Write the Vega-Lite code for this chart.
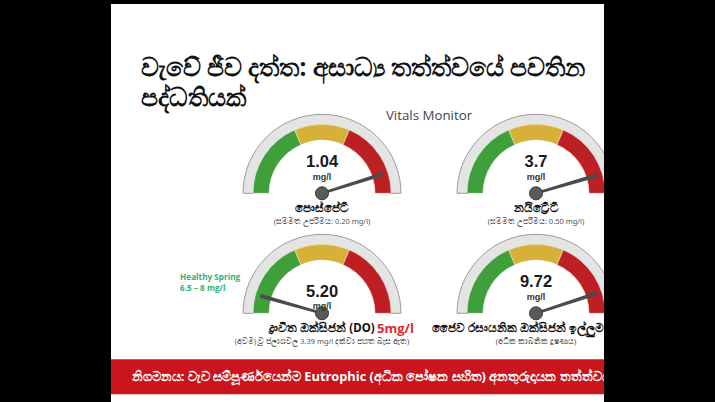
{
  "$schema": "https://vega.github.io/schema/vega-lite/v6.json",
  "width": 715,
  "height": 402,
  "autosize": {"type": "fit", "contains": "padding"},
  "padding": {"left": 111, "right": 111, "top": 4, "bottom": 0},
  "background": "#000000",
  "config": {"view": {"fill": "#ffffff", "stroke": null}, "font": "Noto Sans"},
  "datasets": {
    "gauges": [
      {"gauge": "පොස්පේට්", "col": "left", "row": "top", "value": "1.04", "unit": "mg/l", "note": "(සම්මත උපරිමය: 0.20 mg/l)", "needle": 90.3, "limit": ""},
      {"gauge": "නයිට්‍රේට්", "col": "right", "row": "top", "value": "3.7", "unit": "mg/l", "note": "(සම්මත උපරිමය: 0.50 mg/l)", "needle": 90.9, "limit": ""},
      {"gauge": "ද්‍රාවිත ඔක්සිජන් (DO)", "col": "left", "row": "bottom", "value": "5.20", "unit": "mg/l", "note": "(අවම) වූ ජලාශවල 3.39 mg/l දක්වා පහත බැස ඇත)", "needle": 8.8, "limit": "5mg/l"},
      {"gauge": "ජෛව රසායනික ඔක්සිජන් ඉල්ලුම (BOD)", "col": "right", "row": "bottom", "value": "9.72", "unit": "mg/l", "note": "(අධික කාබනික දූෂණය)", "needle": 89.9, "limit": ""}
    ],
    "bands": [
      {"col": "left", "row": "top", "zone": "green", "start": 0, "end": 37},
      {"col": "left", "row": "top", "zone": "yellow", "start": 37, "end": 63},
      {"col": "left", "row": "top", "zone": "red", "start": 63, "end": 100},
      {"col": "right", "row": "top", "zone": "green", "start": 0, "end": 37},
      {"col": "right", "row": "top", "zone": "yellow", "start": 37, "end": 63},
      {"col": "right", "row": "top", "zone": "red", "start": 63, "end": 100},
      {"col": "left", "row": "bottom", "zone": "green", "start": 0, "end": 37},
      {"col": "left", "row": "bottom", "zone": "yellow", "start": 37, "end": 63},
      {"col": "left", "row": "bottom", "zone": "red", "start": 63, "end": 100},
      {"col": "right", "row": "bottom", "zone": "green", "start": 0, "end": 37},
      {"col": "right", "row": "bottom", "zone": "yellow", "start": 37, "end": 63},
      {"col": "right", "row": "bottom", "zone": "red", "start": 63, "end": 100}
    ],
    "notes": [
      {"kind": "title", "col": "left", "row": "title", "text": "වැවේ ජීව දත්ත: අසාධ්‍ය තත්ත්වයේ පවතින\nපද්ධතියක්"},
      {"kind": "monitor", "col": "left", "row": "top", "text": "Vitals Monitor"},
      {"kind": "spring", "col": "left", "row": "bottom", "text": "Healthy Spring\n6.5 – 8 mg/l"},
      {"kind": "banner", "col": "left", "row": "bottom", "text": "නිගමනය: වැව සම්පූර්ණයෙන්ම Eutrophic (අධික පෝෂක සහිත) අනතුරුදායක තත්ත්වයක පවතී"}
    ]
  },
  "layer": [
    {
      "data": {"name": "notes"},
      "transform": [{"filter": "datum.kind === 'banner'"}],
      "mark": {"type": "rule", "color": "#c9151b", "strokeWidth": 35, "yOffset": 63.5, "clip": true},
      "encoding": {
        "y": {"field": "row", "type": "nominal", "axis": null, "scale": {"type": "point", "domain": ["title", "top", "bottom"], "padding": 0.6583, "align": 0.4386}}
      }
    },
    {
      "data": {"name": "gauges"},
      "mark": {"type": "arc", "innerRadius": 68, "outerRadius": 79, "fill": "#e4e4e4", "stroke": "#9c9c9c", "strokeWidth": 1, "clip": true},
      "encoding": {
        "x": {"field": "col", "type": "nominal", "axis": null, "scale": {"type": "point", "domain": ["left", "right"], "padding": 0.652, "align": 0.7563}},
        "y": {"field": "row", "type": "nominal", "axis": null},
        "theta": {"datum": 0, "type": "quantitative", "scale": {"domain": [0, 100], "range": [-1.5708, 1.5708]}},
        "theta2": {"datum": 100}
      }
    },
    {
      "data": {"name": "bands"},
      "mark": {"type": "arc", "innerRadius": 53, "outerRadius": 69, "stroke": "#ffffff", "strokeOpacity": 0.5, "strokeWidth": 0.8, "clip": true},
      "encoding": {
        "x": {"field": "col", "type": "nominal", "axis": null},
        "y": {"field": "row", "type": "nominal", "axis": null},
        "theta": {"field": "start", "type": "quantitative", "stack": null},
        "theta2": {"field": "end"},
        "color": {"field": "zone", "type": "nominal", "legend": null, "scale": {"domain": ["green", "yellow", "red"], "range": ["#3f9f3a", "#d6b038", "#bd2022"]}}
      }
    },
    {
      "data": {"name": "gauges"},
      "mark": {"type": "arc", "innerRadius": 0, "outerRadius": 63, "thetaOffset": -0.012, "theta2Offset": 0.012, "fill": "#4b4b4b", "stroke": "#4b4b4b", "strokeWidth": 2.6, "strokeJoin": "round", "clip": true},
      "encoding": {
        "x": {"field": "col", "type": "nominal", "axis": null},
        "y": {"field": "row", "type": "nominal", "axis": null},
        "theta": {"field": "needle", "type": "quantitative", "stack": null},
        "theta2": {"field": "needle"}
      }
    },
    {
      "data": {"name": "gauges"},
      "mark": {"type": "point", "filled": true, "size": 170, "color": "#5a5a5a", "stroke": "#3a3a3a", "strokeWidth": 1, "opacity": 1},
      "encoding": {
        "x": {"field": "col", "type": "nominal", "axis": null},
        "y": {"field": "row", "type": "nominal", "axis": null}
      }
    },
    {
      "data": {"name": "gauges"},
      "transform": [{"filter": "datum.limit === ''"}],
      "mark": {"type": "text", "font": "Liberation Sans", "fontWeight": "bold", "fontSize": 16.5, "color": "#1a1a1a", "dy": -31.5, "baseline": "middle"},
      "encoding": {
        "x": {"field": "col", "type": "nominal", "axis": null},
        "y": {"field": "row", "type": "nominal", "axis": null},
        "text": {"field": "value", "type": "nominal"}
      }
    },
    {
      "data": {"name": "gauges"},
      "transform": [{"filter": "datum.limit === ''"}],
      "mark": {"type": "text", "font": "Liberation Sans", "fontWeight": "bold", "fontSize": 9, "color": "#333333", "dy": -16.5, "baseline": "middle"},
      "encoding": {
        "x": {"field": "col", "type": "nominal", "axis": null},
        "y": {"field": "row", "type": "nominal", "axis": null},
        "text": {"field": "unit", "type": "nominal"}
      }
    },
    {
      "data": {"name": "gauges"},
      "transform": [{"filter": "datum.limit !== ''"}],
      "mark": {"type": "text", "font": "Liberation Sans", "fontWeight": "bold", "fontSize": 16.5, "color": "#1a1a1a", "dy": -21.5, "baseline": "middle"},
      "encoding": {
        "x": {"field": "col", "type": "nominal", "axis": null},
        "y": {"field": "row", "type": "nominal", "axis": null},
        "text": {"field": "value", "type": "nominal"}
      }
    },
    {
      "data": {"name": "gauges"},
      "transform": [{"filter": "datum.limit !== ''"}],
      "mark": {"type": "text", "font": "Liberation Sans", "fontWeight": "bold", "fontSize": 9, "color": "#333333", "dy": -7.5, "baseline": "middle"},
      "encoding": {
        "x": {"field": "col", "type": "nominal", "axis": null},
        "y": {"field": "row", "type": "nominal", "axis": null},
        "text": {"field": "unit", "type": "nominal"}
      }
    },
    {
      "data": {"name": "gauges"},
      "mark": {"type": "text", "fontWeight": "bold", "fontSize": 11.5, "color": "#111111", "dy": 16, "baseline": "middle", "clip": true},
      "encoding": {
        "x": {"field": "col", "type": "nominal", "axis": null},
        "y": {"field": "row", "type": "nominal", "axis": null},
        "text": {"field": "gauge", "type": "nominal"}
      }
    },
    {
      "data": {"name": "gauges"},
      "mark": {"type": "text", "fontSize": 7.5, "color": "#555555", "dy": 29, "baseline": "middle", "clip": true},
      "encoding": {
        "x": {"field": "col", "type": "nominal", "axis": null},
        "y": {"field": "row", "type": "nominal", "axis": null},
        "text": {"field": "note", "type": "nominal"}
      }
    },
    {
      "data": {"name": "gauges"},
      "transform": [{"filter": "datum.limit !== ''"}],
      "mark": {"type": "text", "font": "Open Sans", "fontWeight": "bold", "fontSize": 13, "color": "#e0282d", "dx": 55, "dy": 16, "align": "left", "baseline": "middle"},
      "encoding": {
        "x": {"field": "col", "type": "nominal", "axis": null},
        "y": {"field": "row", "type": "nominal", "axis": null},
        "text": {"field": "limit", "type": "nominal"}
      }
    },
    {
      "data": {"name": "notes"},
      "transform": [{"filter": "datum.kind === 'title'"}],
      "mark": {"type": "text", "fontWeight": "bold", "fontSize": 24.5, "color": "#111111", "dx": -181.3, "dy": 3, "align": "left", "baseline": "alphabetic", "lineBreak": "\n", "lineHeight": 30, "clip": true},
      "encoding": {
        "x": {"field": "col", "type": "nominal", "axis": null},
        "y": {"field": "row", "type": "nominal", "axis": null},
        "text": {"field": "text", "type": "nominal"}
      }
    },
    {
      "data": {"name": "notes"},
      "transform": [{"filter": "datum.kind === 'monitor'"}],
      "mark": {"type": "text", "font": "Open Sans", "fontSize": 13.3, "color": "#444444", "dx": 107, "dy": -77, "baseline": "middle"},
      "encoding": {
        "x": {"field": "col", "type": "nominal", "axis": null},
        "y": {"field": "row", "type": "nominal", "axis": null},
        "text": {"field": "text", "type": "nominal"}
      }
    },
    {
      "data": {"name": "notes"},
      "transform": [{"filter": "datum.kind === 'spring'"}],
      "mark": {"type": "text", "font": "Open Sans", "fontWeight": "bold", "fontSize": 8.2, "color": "#35b070", "dx": -142, "dy": -33, "align": "left", "baseline": "alphabetic", "lineBreak": "\n", "lineHeight": 10.5},
      "encoding": {
        "x": {"field": "col", "type": "nominal", "axis": null},
        "y": {"field": "row", "type": "nominal", "axis": null},
        "text": {"field": "text", "type": "nominal"}
      }
    },
    {
      "data": {"name": "notes"},
      "transform": [{"filter": "datum.kind === 'banner'"}],
      "mark": {"type": "text", "font": "Open Sans", "fontWeight": "bold", "fontSize": 12.8, "color": "#ffffff", "dx": -190.3, "dy": 63.7, "align": "left", "baseline": "middle", "clip": true},
      "encoding": {
        "x": {"field": "col", "type": "nominal", "axis": null},
        "y": {"field": "row", "type": "nominal", "axis": null},
        "text": {"field": "text", "type": "nominal"}
      }
    }
  ]
}
